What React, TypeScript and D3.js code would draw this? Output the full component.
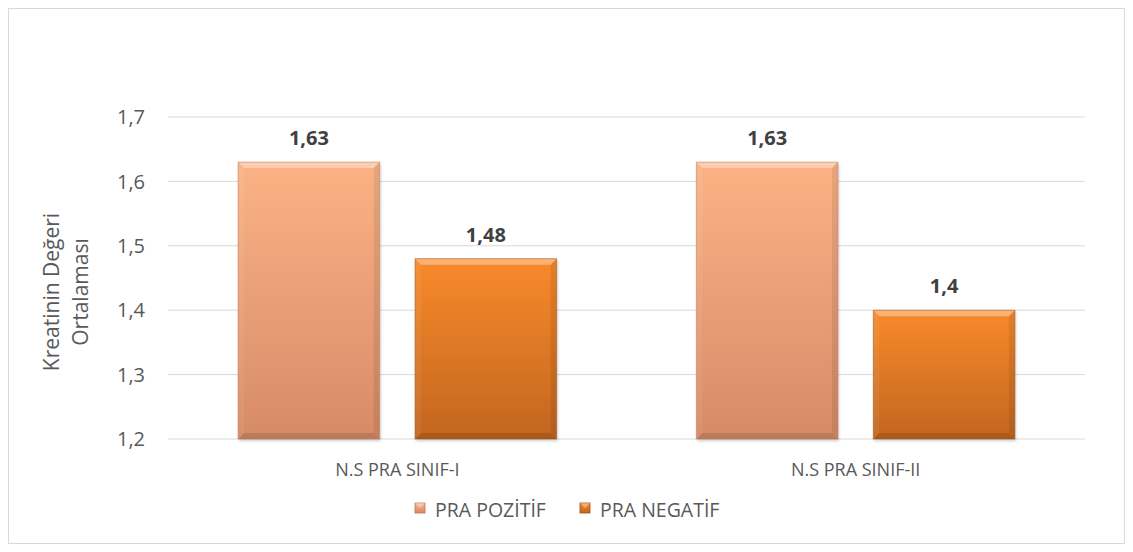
import React from "react";
import * as d3 from "d3";

const categories = ["N.S PRA SINIF-I", "N.S PRA SINIF-II"];
const seriesNames = ["PRA POZİTİF", "PRA NEGATİF"];
const pozitif = [1.63, 1.63];
const negatif = [1.48, 1.4];
const yTicks = [1.2, 1.3, 1.4, 1.5, 1.6, 1.7];
const valueLabels = [["1,63", "1,63"], ["1,48", "1,4"]];

const W = 1133;
const H = 552;
const margin = { left: 168, right: 48, top: 117, bottom: 113 };
const font = "'Open Sans', 'Noto Sans', sans-serif";
const colors = [
  { top: "#FBB385", bottom: "#D68B67", edge: "#B9775A" },
  { top: "#F88A2B", bottom: "#C2661F", edge: "#9C521A" },
];

export default function App() {
  const innerW = W - margin.left - margin.right;
  const innerH = H - margin.top - margin.bottom;

  const x0 = d3.scaleBand().domain(categories).range([0, innerW]).paddingInner(0.305).paddingOuter(0.153);
  const x1 = d3.scaleBand().domain(seriesNames).range([0, x0.bandwidth()]).paddingInner(0.2);
  const y = d3.scaleLinear().domain([1.2, 1.7]).range([innerH, 0]);

  const series = [pozitif, negatif];
  const fmt = (d: number) => d3.format(".1f")(d).replace(".", ",");

  return (
    <svg width={W} height={H} style={{ position: "absolute", left: 0, top: 0 }}>
      <defs>
        {colors.map((c, i) => (
          <linearGradient key={i} id={"g" + i} x1="0" y1="0" x2="0" y2="1">
            <stop offset="0" stopColor={c.top} />
            <stop offset="1" stopColor={c.bottom} />
          </linearGradient>
        ))}
        <filter id="sh" x="-10%" y="-10%" width="120%" height="120%">
          <feDropShadow dx="1" dy="2" stdDeviation="1.5" floodColor="#000" floodOpacity="0.2" />
        </filter>
      </defs>
      <rect x={8.5} y={8.5} width={W - 17} height={H - 17} fill="#fff" stroke="#D9D9D9" />
      <g transform={`translate(${margin.left},${margin.top})`}>
        {yTicks.map((t) => (
          <g key={t}>
            <line x1={0} x2={innerW} y1={y(t)} y2={y(t)} stroke="#D9D9D9" strokeWidth={1} />
            <text x={-23} y={y(t)} dy="0.36em" textAnchor="end" fontFamily={font} fontSize={20} fill="#595959">
              {fmt(t)}
            </text>
          </g>
        ))}
        {categories.map((cat, ci) => (
          <g key={cat} transform={`translate(${x0(cat)},0)`}>
            {series.map((s, si) => {
              const bx = x1(seriesNames[si])!;
              const bw = x1.bandwidth();
              const by = y(s[ci]);
              const bh = innerH - by;
              const b = 6;
              return (
                <g key={si}>
                  <rect x={bx} y={by} width={bw} height={bh} fill={`url(#g${si})`} filter="url(#sh)" />
                  <polygon points={`${bx},${by} ${bx + bw},${by} ${bx + bw - b},${by + b} ${bx + b},${by + b}`} fill="#fff" opacity={0.35} />
                  <polygon points={`${bx},${by} ${bx + b},${by + b} ${bx + b},${by + bh - b} ${bx},${by + bh}`} fill="#fff" opacity={0.06} />
                  <polygon points={`${bx + bw},${by} ${bx + bw},${by + bh} ${bx + bw - b},${by + bh - b} ${bx + bw - b},${by + b}`} fill="#000" opacity={0.08} />
                  <polygon points={`${bx},${by + bh} ${bx + bw},${by + bh} ${bx + bw - b},${by + bh - b} ${bx + b},${by + bh - b}`} fill="#000" opacity={0.12} />
                  <rect x={bx} y={by} width={bw} height={bh} fill="none" stroke={colors[si].edge} strokeWidth={1} opacity={0.5} />
                  <text x={bx + bw / 2} y={by - 17} textAnchor="middle" fontFamily={font} fontSize={20} fontWeight="bold" fill="#404040">
                    {valueLabels[si][ci]}
                  </text>
                </g>
              );
            })}
            <text x={x0.bandwidth() / 2} y={innerH + 37} textAnchor="middle" fontFamily={font} fontSize={18} fill="#595959">
              {cat}
            </text>
          </g>
        ))}
      </g>
      <g transform="translate(0,292) rotate(-90)" fontFamily={font} fontSize={21} fill="#595959" textAnchor="middle">
        <text x={0} y={59}>Kreatinin Değeri</text>
        <text x={0} y={88}>Ortalaması</text>
      </g>
      <g fontFamily={font} fontSize={19.5} fill="#595959">
        {seriesNames.map((n, i) => {
          const lx = i === 0 ? 415 : 580;
          return (
            <g key={n}>
              <rect x={lx} y={503} width={10} height={10} fill={`url(#g${i})`} stroke={colors[i].edge} strokeWidth={0.8} />
              <polygon points={`${lx},${503} ${lx + 10},${503} ${lx + 5},${508}`} fill="#fff" opacity={0.35} />
              <text x={lx + 20} y={517}>{n}</text>
            </g>
          );
        })}
      </g>
    </svg>
  );
}
